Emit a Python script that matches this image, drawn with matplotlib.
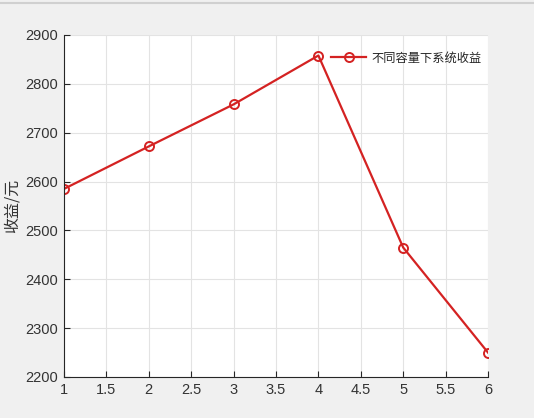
'''Plot of system revenue under different capacities.'''
import matplotlib
matplotlib.use('Agg')
import matplotlib.pyplot as plt
from matplotlib.lines import Line2D

capacity = [1, 2, 3, 4, 5, 6]
revenue = [2585, 2672, 2758, 2858, 2465, 2250]
x_ticks = [1, 1.5, 2, 2.5, 3, 3.5, 4, 4.5, 5, 5.5, 6]
y_ticks = [2200, 2300, 2400, 2500, 2600, 2700, 2800, 2900]
series_label = '不同容量下系统收益'
y_label = '收益/元'

dark = '#262626'
red = '#d42222'

plt.rcParams['font.family'] = ['Liberation Sans', 'Noto Sans CJK SC', 'DejaVu Sans']

fig = plt.figure(figsize=(5.34, 4.18), dpi=100, facecolor='#f0f0f0')
ax = fig.add_axes([64 / 534, 41 / 418, 424 / 534, 342 / 418])
ax.set_facecolor('white')

ax.plot(capacity, revenue, color=red, linewidth=1.6, marker='o',
        markersize=6.5, markerfacecolor='none', markeredgewidth=1.4,
        label=series_label)

ax.set_xlim(1, 6)
ax.set_ylim(2200, 2900)
ax.set_xticks(x_ticks)
ax.set_xticklabels([f'{t:g}' for t in x_ticks])
ax.set_yticks(y_ticks)
ax.grid(True, color='#e3e3e3', linewidth=0.8)
ax.set_axisbelow(True)

for side in ['top', 'right']:
    ax.spines[side].set_visible(False)
for side in ['left', 'bottom']:
    ax.spines[side].set_color(dark)
    ax.spines[side].set_linewidth(0.8)
ax.tick_params(direction='in', length=4, width=0.8, color=dark,
               labelcolor='#333333', labelsize=10.5, pad=4)

ax.set_ylabel(y_label, fontsize=11.5, color='#333333',
              family=['Noto Sans CJK SC', 'DejaVu Sans'], labelpad=4)

leg = ax.legend(loc='center left', bbox_to_anchor=(331 / 534, 1 - 58 / 418),
                bbox_transform=fig.transFigure, frameon=False, borderpad=0,
                borderaxespad=0, handlelength=2.9, handletextpad=0.45,
                prop={'family': ['Noto Sans CJK SC', 'DejaVu Sans'], 'size': 8.8})
for text in leg.get_texts():
    text.set_color(dark)

# thin window border at the top
fig.add_artist(Line2D([0, 1], [1 - 3 / 418, 1 - 3 / 418], color='#d0d0d0',
                      linewidth=1.5, transform=fig.transFigure))

fig.savefig('out.png', dpi=100, facecolor=fig.get_facecolor())
plt.close(fig)
